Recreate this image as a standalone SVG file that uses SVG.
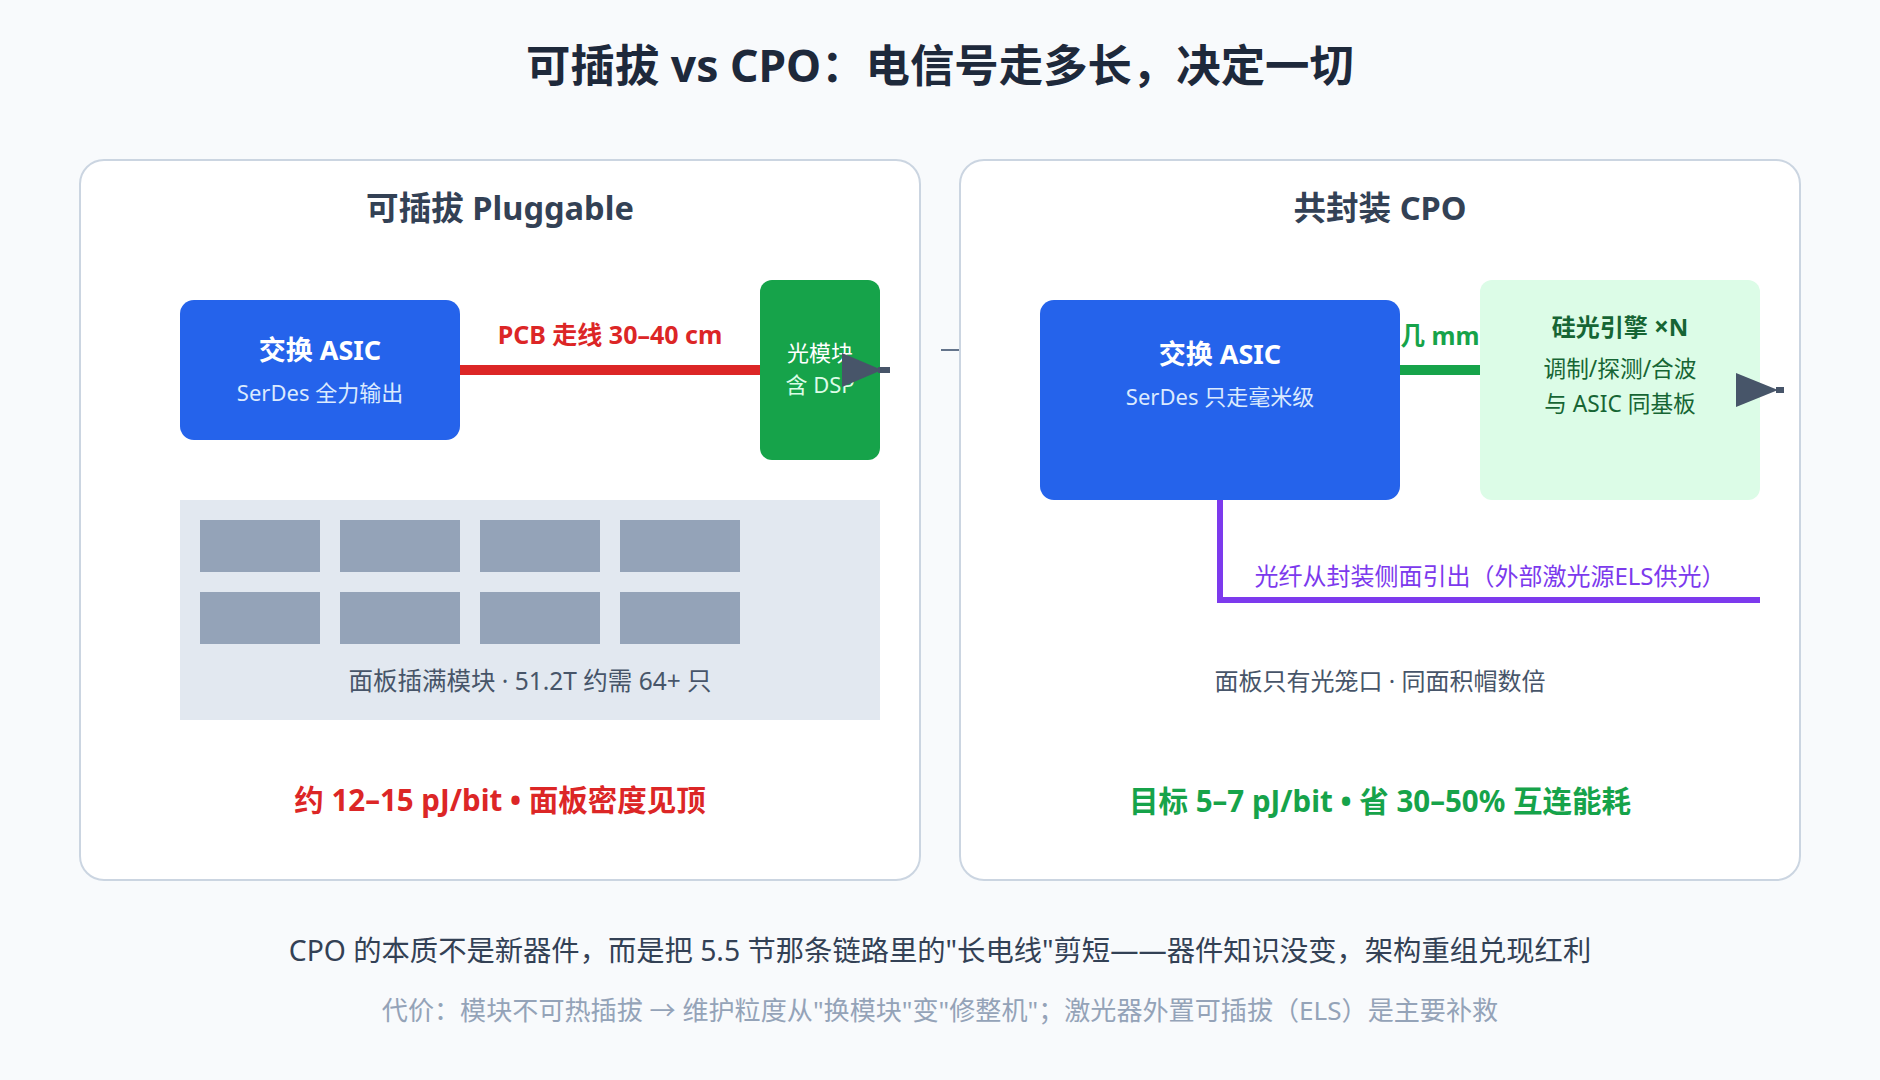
<svg xmlns="http://www.w3.org/2000/svg" width="1880" height="1080" viewBox="0 0 1880 1080">
<style>
text{font-family:"Noto Sans","Noto Sans CJK SC",sans-serif;dominant-baseline:central;text-anchor:middle}
.b{font-weight:700}
.panel{fill:#ffffff;stroke:#cbd5e1;stroke-width:2}
.asic{fill:#2563eb}
.wt{fill:#ffffff}
.lt{fill:#dbeafe}
.slot{fill:#94a3b8}
.arrowhead{fill:#475569}
</style>
<rect x="0" y="0" width="1880" height="1080" fill="#f8fafc"/>
<text x="940" y="65" class="b" font-size="44.4" fill="#1e293b">可插拔 vs CPO：电信号走多长，决定一切</text>

<g id="panel-pluggable">
<rect class="panel" x="80" y="160" width="840" height="720" rx="24"/>
<text x="500" y="207" class="b" font-size="32.6" fill="#334155">可插拔 Pluggable</text>
</g>
<line x1="941" y1="350" x2="960" y2="350" stroke="#64748b" stroke-width="2"/>
<g id="panel-cpo">
<rect class="panel" x="960" y="160" width="840" height="720" rx="24"/>
<text x="1380" y="207" class="b" font-size="32.6" fill="#334155">共封装 CPO</text>
</g>

<g id="connectors">
<line x1="459" y1="370" x2="762" y2="370" stroke="#dc2626" stroke-width="10"/>
<line x1="1399" y1="370" x2="1482" y2="370" stroke="#16a34a" stroke-width="10"/>
<path d="M1220,499 V600 H1760" fill="none" stroke="#7c3aed" stroke-width="6"/>
</g>

<text x="610" y="334" class="b" font-size="25" fill="#dc2626">PCB 走线 30–40 cm</text>
<text x="1440" y="335" class="b" font-size="24.6" fill="#16a34a">几 mm</text>

<g id="asic-left">
<rect class="asic" x="180" y="300" width="280" height="140" rx="14"/>
<text x="320" y="349" class="b wt" font-size="27">交换 ASIC</text>
<text x="320" y="392" class="lt" font-size="22">SerDes 全力输出</text>
</g>

<g id="optical-module">
<rect x="760" y="280" width="120" height="180" rx="12" fill="#16a34a"/>
<text x="820" y="352" font-size="22" fill="#ffffff">光模块</text>
<text x="820" y="384" font-size="22" fill="#dcfce7">含 DSP</text>
</g>

<g id="arrow-left">
<line x1="878" y1="370" x2="890" y2="370" stroke="#475569" stroke-width="6"/>
<polygon class="arrowhead" points="842,353 882,370 842,387"/>
</g>

<g id="faceplate">
<rect x="180" y="500" width="700" height="220" fill="#e2e8f0"/>
<rect class="slot" x="200" y="520" width="120" height="52"/>
<rect class="slot" x="340" y="520" width="120" height="52"/>
<rect class="slot" x="480" y="520" width="120" height="52"/>
<rect class="slot" x="620" y="520" width="120" height="52"/>
<rect class="slot" x="200" y="592" width="120" height="52"/>
<rect class="slot" x="340" y="592" width="120" height="52"/>
<rect class="slot" x="480" y="592" width="120" height="52"/>
<rect class="slot" x="620" y="592" width="120" height="52"/>
<text x="530" y="680" font-size="24.5" fill="#475569">面板插满模块 · 51.2T 约需 64+ 只</text>
</g>
<text x="500" y="799" class="b" font-size="29.5" fill="#dc2626">约 12–15 pJ/bit • 面板密度见顶</text>

<g id="asic-right">
<rect class="asic" x="1040" y="300" width="360" height="200" rx="14"/>
<text x="1220" y="353" class="b wt" font-size="27">交换 ASIC</text>
<text x="1220" y="396" class="lt" font-size="22">SerDes 只走毫米级</text>
</g>

<g id="sipho-engine">
<rect x="1480" y="280" width="280" height="220" rx="12" fill="#dcfce7"/>
<text x="1620" y="326" class="b" font-size="24" fill="#166534">硅光引擎 <tspan font-size="26">×</tspan>N</text>
<text x="1620" y="368" font-size="22.7" fill="#166534">调制/探测/合波</text>
<text x="1620" y="403" font-size="22.7" fill="#166534">与 ASIC 同基板</text>
</g>

<g id="arrow-right">
<line x1="1776" y1="390" x2="1784" y2="390" stroke="#475569" stroke-width="6"/>
<polygon class="arrowhead" points="1736,373 1778,390 1736,407"/>
</g>

<text x="1490" y="575" font-size="24" fill="#7c3aed">光纤从封装侧面引出（外部激光源ELS供光）</text>
<text x="1380" y="680" font-size="24" fill="#475569">面板只有光笼口 · 同面积帽数倍</text>
<text x="1380" y="800" class="b" font-size="29.5" fill="#16a34a">目标 5–7 pJ/bit • 省 30–50% 互连能耗</text>

<text x="940" y="950" font-size="28.3" fill="#334155">CPO 的本质不是新器件，而是把 5.5 节那条链路里的"长电线"剪短——器件知识没变，架构重组兑现红利</text>
<text x="940" y="1010" font-size="26.1" fill="#94a3b8">代价：模块不可热插拔 → 维护粒度从"换模块"变"修整机"；激光器外置可插拔（ELS）是主要补救</text>
</svg>
